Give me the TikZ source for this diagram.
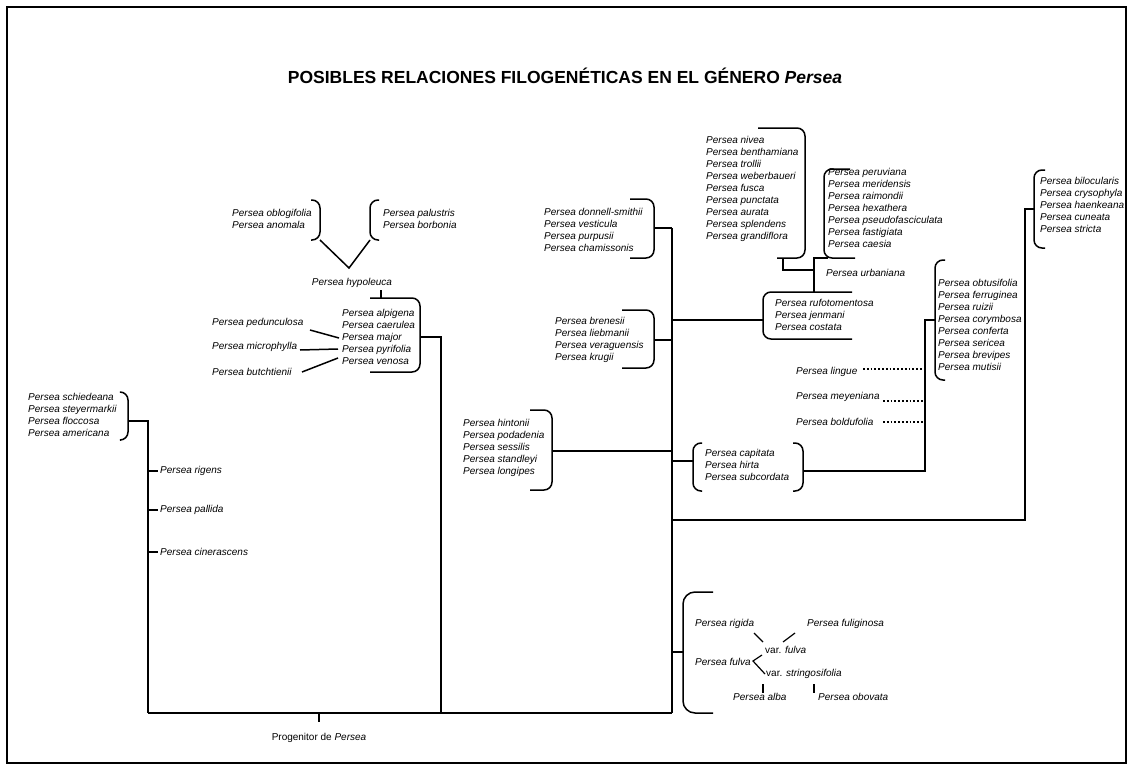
\documentclass[tikz,border=0pt]{standalone}
\usepackage{fontspec}
\setmainfont{Liberation Sans}

\begin{document}
\begin{tikzpicture}[
      x=1pt,y=-1pt,
      taxon/.style={
        font=\fontsize{10}{12}\selectfont\itshape,
        align=left,
        anchor=west,
        inner sep=0pt
      },
      branch/.style={
        line width=1.5pt
      },
      bracket/.style={
        line width=1.5pt,
        rounded corners=8pt
      },
      uncertain/.style={
        line width=1.8pt,
        dotted
      }
    ]
      \useasboundingbox (0,0) rectangle (1130,771);
      \draw[line width=1.2pt] (7,7) rectangle (1126,763);

      \node[font=\fontsize{17.5}{20}\selectfont\bfseries] (title) at (565,76)
        {POSIBLES RELACIONES FILOGENÉTICAS EN EL GÉNERO \textit{Persea}};

      % tronco comun
      \coordinate (root0) at (148,713);
      \coordinate (prog) at (319,713);
      \coordinate (root1) at (441,713);
      \coordinate (root2) at (672,713);
      \draw[branch] (root0) -- (root2);
      \draw[branch] (prog) -- ++(0,9);
      \node[font=\fontsize{10}{12}\selectfont] (progL) at (319,738) {Progenitor de \textit{Persea}};

      % grupo americana
      \node[taxon] (schied) at (28,415) {Persea schiedeana\\Persea steyermarkii\\Persea floccosa\\Persea americana};
      \coordinate (schiedTip) at (128,421);
      \coordinate (left) at (148,421);
      \draw[bracket] (121,392) -| (schiedTip) |- (121,440);
      \draw[branch] (schiedTip) -- (left) -- (root0);
      \foreach \y/\n/\l in {471/rig/rigens,510/pal/pallida,552/cin/cinerascens}{
        \coordinate (\n) at (148,\y);
        \coordinate (t\n) at (158,\y);
        \node[taxon] (l\n) at (160,\y) {Persea \l};
        \draw[branch] (\n) -- (t\n);
      }

      % grupo alpigena
      \node[taxon] (alpig) at (342,337) {Persea alpigena\\Persea caerulea\\Persea major\\Persea pyrifolia\\Persea venosa};
      \coordinate (alpigTip) at (420,337);
      \coordinate (alpigKnee) at (441,337);
      \draw[bracket] (370,298) -| (alpigTip) |- (370,372);
      \draw[branch] (alpigTip) -- (alpigKnee) -- (root1);

      \node[taxon,anchor=center] (hypo) at (352,283) {Persea hypoleuca};
      \coordinate (hypoTick) at (381,298);
      \draw[branch] (hypoTick) -- ++(0,-8);

      \node[taxon] (oblog) at (232,218.5) {Persea oblogifolia\\Persea anomala};
      \node[taxon] (palus) at (383,218.5) {Persea palustris\\Persea borbonia};
      \coordinate (oblogTip) at (320,220);
      \coordinate (palusTip) at (370,220);
      \draw[bracket] (311,200) -| (oblogTip) |- (311,240);
      \draw[bracket] (379,200) -| (palusTip) |- (379,240);
      \coordinate (oblogEnd) at (320,240);
      \coordinate (palusEnd) at (370,240);
      \coordinate (vee) at (349,268);
      \draw[branch] (oblogEnd) -- (vee) -- (palusEnd);

      \foreach \y/\n/\l/\u/\v/\s/\t in {323/ped/pedunculosa/310/330/339/338,
          347/mic/microphylla/300/350/338/349,372/but/butchtienii/302/372/338/358}{
        \node[taxon] (l\n) at (212,\y) {Persea \l};
        \coordinate (a\n) at (\u,\v);
        \coordinate (b\n) at (\s,\t);
        \draw[branch] (a\n) -- (b\n);
      }

      % eje central
      \foreach \y in {228,320,340,451,461,520,652}
        \coordinate (s\y) at (672,\y);
      \draw[branch] (s228) -- (root2);

      \node[taxon] (donnell) at (544,229.5) {Persea donnell-smithii\\Persea vesticula\\Persea purpusii\\Persea chamissonis};
      \coordinate (donnellTip) at (654,228);
      \draw[bracket] (630,199) -| (donnellTip) |- (630,258);
      \draw[branch] (donnellTip) -- (s228);

      \node[taxon] (brenes) at (555,340) {Persea brenesii\\Persea liebmanii\\Persea veraguensis\\Persea krugii};
      \coordinate (brenesTip) at (654,340);
      \draw[bracket] (622,310) -| (brenesTip) |- (622,368);
      \draw[branch] (brenesTip) -- (s340);

      \node[taxon] (hinton) at (463,448) {Persea hintonii\\Persea podadenia\\Persea sessilis\\Persea standleyi\\Persea longipes};
      \coordinate (hintonTip) at (552,451);
      \draw[bracket] (530,410) -| (hintonTip) |- (530,490);
      \draw[branch] (hintonTip) -- (s451);

      % grupo rufotomentosa
      \node[taxon] (rufo) at (775,315) {Persea rufotomentosa\\Persea jenmani\\Persea costata};
      \coordinate (rufoTip) at (763,320);
      \draw[bracket] (852,292) -| (rufoTip) |- (852,339);
      \draw[branch] (s320) -- (rufoTip);

      \node[taxon] (nivea) at (706,189) {Persea nivea\\Persea benthamiana\\Persea trollii\\Persea weberbaueri\\Persea fusca\\Persea punctata\\Persea aurata\\Persea splendens\\Persea grandiflora};
      \draw[bracket] (758,128) -| (805,200) |- (777,258);
      \node[taxon] (peru) at (828,208) {Persea peruviana\\Persea meridensis\\Persea raimondii\\Persea hexathera\\Persea pseudofasciculata\\Persea fastigiata\\Persea caesia};
      \draw[bracket] (850,169) -| (824,258) -- (855,258);
      \node[taxon] (urban) at (826,273) {Persea urbaniana};

      \coordinate (rufoTop) at (814,292);
      \coordinate (junct) at (814,270);
      \coordinate (peruFoot) at (814,258);
      \coordinate (peruCorner) at (828,258);
      \coordinate (niveaFoot) at (783,258);
      \coordinate (niveaKnee) at (783,270);
      \draw[branch] (rufoTop) -- (peruFoot) -- (peruCorner);
      \draw[branch] (niveaFoot) -- (niveaKnee) -- (junct);

      % grupo capitata y obtusifolia
      \node[taxon] (capit) at (705,465) {Persea capitata\\Persea hirta\\Persea subcordata};
      \coordinate (capL) at (693,461);
      \coordinate (capR) at (803,471);
      \draw[bracket] (702,443) -| (capL) |- (702,491);
      \draw[bracket] (793,443) -| (capR) |- (793,491);
      \draw[branch] (s461) -- (capL);

      \node[taxon] (obtus) at (938,325) {Persea obtusifolia\\Persea ferruginea\\Persea ruizii\\Persea corymbosa\\Persea conferta\\Persea sericea\\Persea brevipes\\Persea mutisii};
      \coordinate (obtKnee) at (925,471);
      \coordinate (obtTip) at (935,320);
      \draw[bracket] (945,260) -| (obtTip) |- (945,380);
      \draw[branch] (capR) -- (obtKnee) |- (obtTip);

      \foreach \ty/\dy/\n/\l/\x in {372/369/lin/lingue/863,397/401/mey/meyeniana/883,422/422/bol/boldufolia/883}{
        \node[taxon] (l\n) at (796,\ty) {Persea \l};
        \coordinate (d\n) at (\x,\dy);
        \coordinate (e\n) at (923,\dy);
        \draw[uncertain] (d\n) -- (e\n);
      }

      % grupo bilocularis
      \node[taxon] (bilo) at (1040,205) {Persea bilocularis\\Persea crysophyla\\Persea haenkeana\\Persea cuneata\\Persea stricta};
      \coordinate (biloKnee) at (1025,520);
      \coordinate (biloTip) at (1034,209);
      \draw[bracket] (1045,170) -| (biloTip) |- (1045,248);
      \draw[branch] (s520) -- (biloKnee) |- (biloTip);

      % grupo fulva
      \coordinate (fulvaTip) at (683,652);
      \draw[bracket,rounded corners=12pt] (713,592) -| (fulvaTip) |- (713,713);
      \draw[branch] (s652) -- (fulvaTip);
      \node[taxon] (rigida) at (695,624) {Persea rigida};
      \node[taxon] (fulig) at (807,624) {Persea fuliginosa};
      \node[taxon] (varf) at (765,650) {{\upshape var.} fulva};
      \node[taxon] (fulva) at (695,662) {Persea fulva};
      \node[taxon] (vars) at (766,674) {{\upshape var.} stringosifolia};
      \node[taxon] (alba) at (733,697) {Persea alba};
      \node[taxon] (obov) at (818,697) {Persea obovata};
      \foreach \n/\u/\v/\s/\t in {rig/754/633/763/642,ful/795/633/783/642,
          alb/763/684/763/693,obo/814/684/814/693}{
        \coordinate (f\n) at (\u,\v);
        \coordinate (g\n) at (\s,\t);
        \draw[branch,line width=1.2pt] (f\n) -- (g\n);
      }
      \coordinate (fork1) at (762,655);
      \coordinate (fork0) at (753,661);
      \coordinate (fork2) at (765,674);
      \draw[branch,line width=1.2pt] (fork1) -- (fork0) -- (fork2);
    \end{tikzpicture}
\end{document}
